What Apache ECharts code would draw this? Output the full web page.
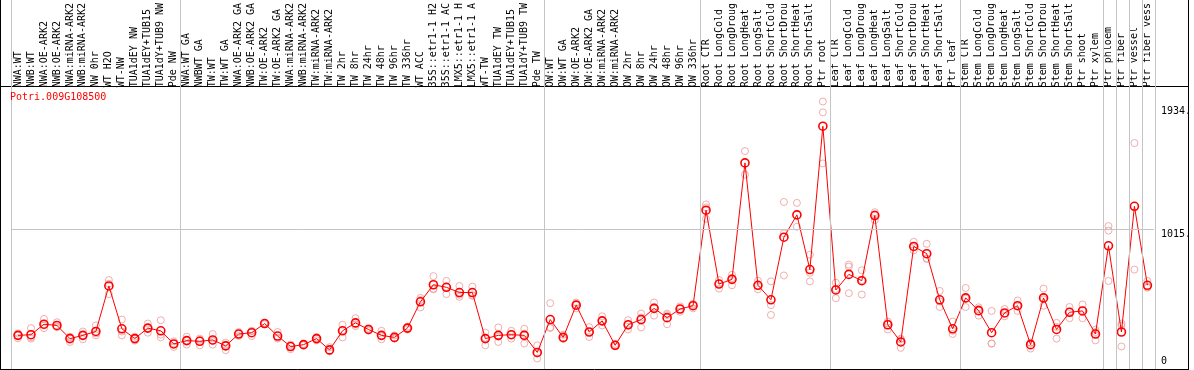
<!DOCTYPE html>
<html>
<head>
<meta charset="utf-8">
<script src="https://cdn.jsdelivr.net/npm/echarts@6/dist/echarts.min.js"></script>
<style>
  html, body { margin: 0; padding: 0; background: #fff; }
  #chart { width: 1194px; height: 370px; }
</style>
</head>
<body>
<div id="chart"></div>
<script>
// sample labels, as shown (cut to 14 chars in the source picture)
const categories = [
  "NWA:WT", "NWB:WT", "NWA:OE-ARK2", "NWB:OE-ARK2", "NWA:miRNA-ARK2", "NWB:miRNA-ARK2",
  "NW 0hr", "WT H2O", "WT-NW", "TUA1dEY NW", "TUA1dEY+TUB15", "TUA1dY+TUB9 NW", "Pde NW",
  "NWA:WT GA", "NWBWT GA", "TW:WT", "TW:WT GA", "NWA:OE-ARK2 GA", "NWB:OE-ARK2 GA",
  "TW:OE-ARK2", "TW:OE-ARK2 GA", "NWA:miRNA-ARK2", "NWB:miRNA-ARK2", "TW:miRNA-ARK2",
  "TW:miRNA-ARK2", "TW 2hr", "TW 8hr", "TW 24hr", "TW 48hr", "TW 96hr", "TW 336hr",
  "WT ACC", "35S::etr1-1 H2", "35S::etr1-1 AC", "LMX5::etr1-1 H", "LMX5::etr1-1 A",
  "WT-TW", "TUA1dEY TW", "TUA1dEY+TUB15", "TUA1dY+TUB9 TW", "Pde TW",
  "OW:WT", "OW:WT GA", "OW:OE-ARK2", "OW:OE-ARK2 GA", "OW:miRNA-ARK2", "OW:miRNA-ARK2",
  "OW 2hr", "OW 8hr", "OW 24hr", "OW 48hr", "OW 96hr", "OW 336hr",
  "Root CTR", "Root LongCold", "Root LongDroug", "Root LongHeat", "Root LongSalt",
  "Root ShortCold", "Root ShortDrou", "Root ShortHeat", "Root ShortSalt", "Ptr root",
  "Leaf CTR", "Leaf LongCold", "Leaf LongDroug", "Leaf LongHeat", "Leaf LongSalt",
  "Leaf ShortCold", "Leaf ShortDrou", "Leaf ShortHeat", "Leaf ShortSalt", "Ptr leaf",
  "Stem CTR", "Stem LongCold", "Stem LongDroug", "Stem LongHeat", "Stem LongSalt",
  "Stem ShortCold", "Stem ShortDrou", "Stem ShortHeat", "Stem ShortSalt", "Ptr shoot",
  "Ptr xylem", "Ptr phloem", "Ptr fiber", "Ptr vessel", "Ptr fiber vess"
];

// how many samples sit in each experiment block (gray separators between them)
const groupSizes = [13, 28, 12, 10, 10, 11, 1, 1, 1, 1];

const means = [
  228, 233, 311, 302, 204, 228, 257, 596, 277, 204, 282, 262, 164,
  189, 184, 194, 150, 238, 248, 316, 223, 145, 159, 204, 120, 262, 321, 272, 228, 213,
  282, 478, 605, 586, 547, 547, 204, 228, 233, 228, 101,
  346, 213, 453, 253, 336, 154, 307, 346, 429, 360, 424, 449,
  1160, 610, 645, 1512, 601, 493, 959, 1125, 718, 1785,
  566, 682, 635, 1120, 307, 179, 890, 836, 493, 277,
  507, 412, 248, 395, 449, 159, 507, 272, 400, 410, 238,
  895, 253, 1189, 601
];

const replicates = [
  [243, 228, 206], [282, 204, 214], [351, 302, 282], [326, 289, 292], [218, 179, 214],
  [257, 199, 228], [302, 228, 242], [640, 535, 612], [346, 228, 257], [218, 189, 204],
  [316, 248, 282], [341, 233, 213], [142, 184, 167],
  [218, 160, 189], [204, 154, 194], [238, 159, 185], [174, 118, 158], [253, 223, 238],
  [262, 223, 259], [321, 311, 316], [253, 204, 212], [160, 125, 150], [164, 154, 159],
  [216, 191, 205], [140, 110, 110], [307, 213, 266], [356, 297, 310], [282, 262, 272],
  [262, 199, 223], [228, 204, 207], [292, 272, 282], [507, 436, 491], [669, 571, 575],
  [633, 535, 590], [596, 515, 530], [591, 522, 528], [248, 154, 210], [287, 179, 218],
  [262, 204, 233], [277, 167, 240], [154, 56, 93],
  [468, 282, 288], [233, 204, 202], [473, 429, 457], [289, 216, 254], [370, 302, 336],
  [164, 145, 153], [341, 272, 308], [390, 287, 361], [473, 375, 439], [390, 311, 379],
  [444, 404, 424], [463, 429, 455],
  [1203, 1096, 1181], [640, 576, 614], [679, 601, 655], [1600, 1425], [635, 571, 597],
  [630, 453, 380], [1221, 988, 674], [1214, 1037], [829, 694, 630], [1969, 1888, 1508],
  [620, 505, 573], [755, 740, 542], [713, 640, 532], [1145, 1086, 1130], [331, 272, 318],
  [204, 135, 198], [924, 861, 885], [910, 797, 801], [559, 439, 481], [331, 238, 262],
  [581, 439, 501], [424, 375, 437], [410, 167, 167], [424, 370, 391], [488, 410, 449],
  [174, 130, 173], [576, 449, 496], [321, 204, 291], [439, 356, 405], [458, 356, 416],
  [253, 191, 270], [1042, 1008, 633], [316, 300, 145], [1660, 718], [633, 583, 587]
];

const yTopLabels = [1015, 1934];
const yBottomLabels = [0];
const gridValue = 1015;
const geneName = "Potri.009G108500";

const MONO = "'DejaVu Sans Mono', 'Liberation Mono', monospace";
const Y_MAX = 2060;

// replicate points as [categoryIndex, value]
const repPoints = [];
replicates.forEach((reps, i) => {
  reps.forEach((v) => repPoints.push([i, v]));
});

// boundaries between groups, counted in category units
const boundaries = [0];
groupSizes.forEach((n) => boundaries.push(boundaries[boundaries.length - 1] + n));

const chart = echarts.init(document.getElementById("chart"), null, { renderer: "canvas" });

const W = 1194, H = 370;
const frameColor = "#000";

const option = {
  animation: false,
  backgroundColor: "#fff",
  title: {
    text: geneName,
    left: 10,
    top: 92,
    padding: 0,
    textStyle: { fontFamily: MONO, fontSize: 10, fontWeight: "normal", color: "#ff0000" }
  },
  grid: [
    { left: 11.5, right: 38.5, top: 86, bottom: 4 },
    { left: 11.5, right: 38.5, top: 0, bottom: 1 }
  ],
  xAxis: [
    {
      type: "category",
      gridIndex: 0,
      position: "top",
      data: categories,
      boundaryGap: true,
      axisLine: { show: false },
      axisTick: { show: false },
      splitLine: { show: false },
      axisLabel: {
        interval: 0,
        rotate: 90,
        margin: 2,
        fontFamily: MONO,
        fontSize: 10,
        color: "#000"
      }
    },
    { type: "value", gridIndex: 1, min: 0, max: categories.length, show: false }
  ],
  yAxis: [
    {
      type: "value",
      gridIndex: 0,
      position: "right",
      min: 0,
      max: Y_MAX,
      axisLine: { show: false },
      axisTick: { show: false },
      splitLine: { show: false },
      axisLabel: {
        customValues: yTopLabels,
        margin: 7,
        verticalAlign: "top",
        fontFamily: MONO,
        fontSize: 10,
        color: "#000",
        formatter: (v) => v + "."
      }
    },
    { type: "value", gridIndex: 1, min: 0, max: 1, show: false },
    {
      type: "value",
      gridIndex: 0,
      position: "right",
      min: 0,
      max: Y_MAX,
      axisLine: { show: false },
      axisTick: { show: false },
      splitLine: { show: false },
      axisLabel: {
        customValues: yBottomLabels,
        margin: 7,
        verticalAlign: "bottom",
        fontFamily: MONO,
        fontSize: 10,
        color: "#000",
        formatter: (v) => String(v)
      }
    }
  ],
  series: [
    {
      name: "separators",
      type: "line",
      xAxisIndex: 1,
      yAxisIndex: 1,
      data: [],
      silent: true,
      markLine: {
        silent: true,
        symbol: "none",
        label: { show: false },
        lineStyle: { color: "#c4c4c4", type: "solid", width: 1 },
        data: boundaries.map((b) => ({ xAxis: b }))
      }
    },
    {
      name: "replicates",
      type: "scatter",
      xAxisIndex: 0,
      yAxisIndex: 0,
      data: repPoints,
      symbol: "circle",
      symbolSize: 7,
      z: 3,
      itemStyle: { color: "rgba(0,0,0,0)", borderColor: "#ec9a9a", borderWidth: 1 }
    },
    {
      name: "mean",
      type: "line",
      xAxisIndex: 0,
      yAxisIndex: 0,
      data: means,
      symbol: "circle",
      symbolSize: 8,
      showAllSymbol: true,
      z: 4,
      lineStyle: { color: "#ff0000", width: 1 },
      itemStyle: { color: "rgba(0,0,0,0)", borderColor: "#ff0000", borderWidth: 1.6 },
      markLine: {
        silent: true,
        symbol: "none",
        label: { show: false },
        lineStyle: { color: "#c4c4c4", type: "solid", width: 1 },
        data: [{ yAxis: gridValue }]
      }
    }
  ],
  graphic: [
    { type: "line", shape: { x1: 0.5, y1: 0, x2: 0.5, y2: H }, style: { stroke: frameColor, lineWidth: 1 } },
    { type: "line", shape: { x1: 1188.5, y1: 0, x2: 1188.5, y2: H }, style: { stroke: frameColor, lineWidth: 1 } },
    { type: "line", shape: { x1: 0, y1: 86.5, x2: 1189, y2: 86.5 }, style: { stroke: frameColor, lineWidth: 1 } },
    { type: "line", shape: { x1: 0, y1: 369.5, x2: 1189, y2: 369.5 }, style: { stroke: frameColor, lineWidth: 1 } }
  ]
};

chart.setOption(option);
window.addEventListener("resize", () => chart.resize());
</script>
</body>
</html>
